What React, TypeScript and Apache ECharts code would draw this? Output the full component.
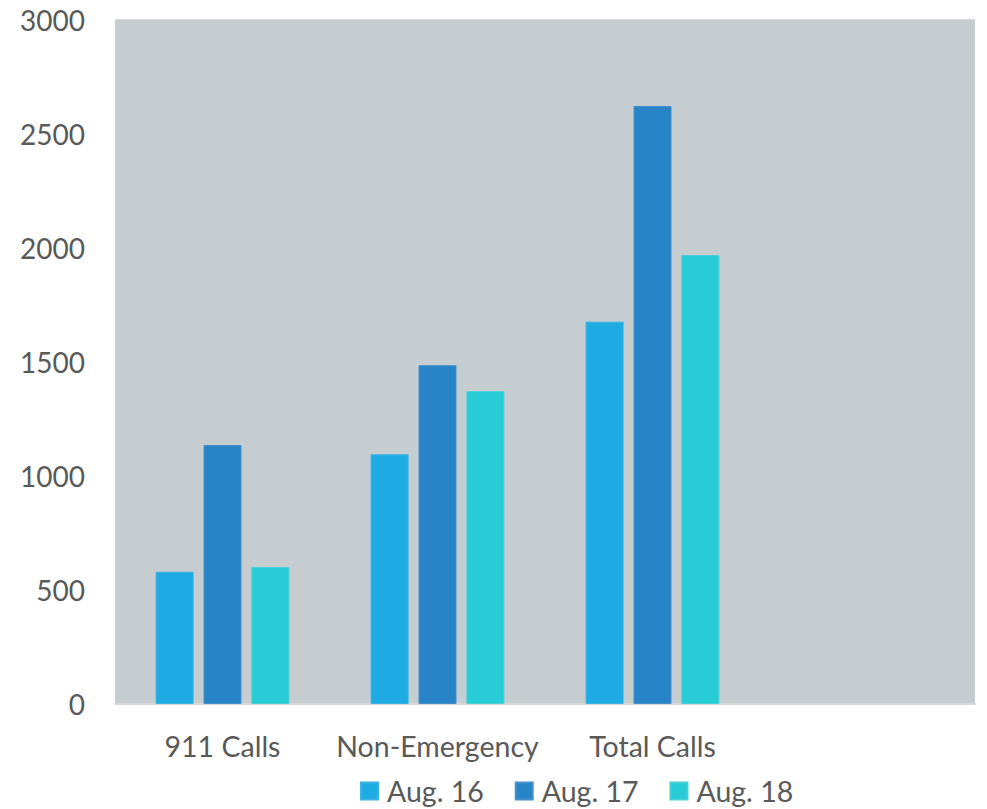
import React, { useEffect, useRef } from "react";
import * as echarts from "echarts";

const categories = ["911 Calls", "Non-Emergency", "Total Calls", ""];
const seriesNames = ["Aug. 16", "Aug. 17", "Aug. 18"];
const aug16 = [580, 1095, 1677, null];
const aug17 = [1136, 1486, 2623, null];
const aug18 = [601, 1372, 1969, null];
const colors = ["#1EABE3", "#2684C7", "#27CCD6"];
const borderColors = ["#3AB3E3", "#4790CC", "#45D0D9"];

export default function App() {
  const ref = useRef<HTMLDivElement>(null);
  useEffect(() => {
    if (!ref.current) return;
    const chart = echarts.init(ref.current, null, { renderer: "svg" });
    const font = "Lato, 'Liberation Sans', sans-serif";
    const datas = [aug16, aug17, aug18];
    chart.setOption({
      animation: false,
      textStyle: { fontFamily: font },
      grid: { left: 115, right: 12, top: 20, bottom: 105, containLabel: false },
      legend: {
        left: 360,
        top: 776,
        padding: 0,
        itemWidth: 17,
        itemHeight: 17,
        itemGap: 31,
        icon: "rect",
        textStyle: { fontSize: 28.5, color: "#595959", fontFamily: font, padding: [0, 0, 0, 4], lineHeight: 30 },
        data: seriesNames,
      },
      xAxis: {
        type: "category",
        data: categories,
        axisLine: { show: true, lineStyle: { color: "#D9D9D9", width: 2 } },
        axisTick: { show: false },
        axisLabel: { color: "#595959", fontSize: 28.5, margin: 27, fontFamily: font, interval: 0 },
        splitLine: { show: false },
        splitArea: { show: true, areaStyle: { color: ["#C5CDD1", "#C5CDD1"] } },
      },
      yAxis: {
        type: "value",
        min: 0,
        max: 3000,
        interval: 500,
        axisLine: { show: false },
        axisTick: { show: false },
        axisLabel: { color: "#595959", fontSize: 28, margin: 30, fontFamily: font, formatter: (v: number) => String(v) },
        splitLine: { show: true, lineStyle: { color: "#D9D9D9", width: 2 } },
      },
      series: seriesNames.map((name, i) => ({
        name,
        type: "bar",
        data: datas[i],
        barWidth: 38,
        barGap: "26%",
        itemStyle: { color: colors[i], borderColor: borderColors[i], borderWidth: 1 },
      })),
    });
    return () => chart.dispose();
  }, []);
  return <div ref={ref} style={{ width: 987, height: 809, position: "absolute", left: 0, top: 0 }} />;
}
